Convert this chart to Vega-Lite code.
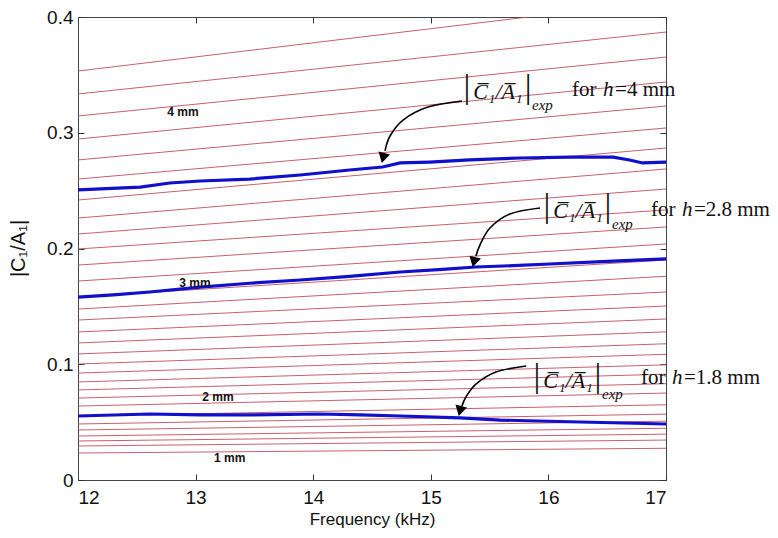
{
  "$schema": "https://vega.github.io/schema/vega-lite/v6.json",
  "width": 588,
  "height": 463,
  "autosize": {"type": "none"},
  "padding": {"left": 78, "top": 17, "right": 112, "bottom": 58},
  "background": "white",
  "config": {
    "view": {"stroke": "#444", "strokeWidth": 1},
    "axis": {
      "labelFont": "Liberation Sans", "labelFontSize": 19, "labelColor": "#111",
      "titleFont": "Liberation Sans", "titleFontSize": 17, "titleFontWeight": "normal", "titleColor": "#111",
      "tickColor": "#333", "tickWidth": 1, "domainColor": "#444", "grid": false, "tickSize": -6
    }
  },
  "datasets": {
    "red": [
      {"id": 1, "f": 12, "v": 0.3533}, {"id": 1, "f": 17, "v": 0.4143},
      {"id": 2, "f": 12, "v": 0.3335}, {"id": 2, "f": 17, "v": 0.3870},
      {"id": 3, "f": 12, "v": 0.3145}, {"id": 3, "f": 17, "v": 0.3654},
      {"id": 4, "f": 12, "v": 0.2946}, {"id": 4, "f": 17, "v": 0.3438},
      {"id": 5, "f": 12, "v": 0.2765}, {"id": 5, "f": 17, "v": 0.3231},
      {"id": 6, "f": 12, "v": 0.2600}, {"id": 6, "f": 17, "v": 0.3041},
      {"id": 7, "f": 12, "v": 0.2419}, {"id": 7, "f": 17, "v": 0.2868},
      {"id": 8, "f": 12, "v": 0.2263}, {"id": 8, "f": 17, "v": 0.2687},
      {"id": 9, "f": 12, "v": 0.2125}, {"id": 9, "f": 17, "v": 0.2514},
      {"id": 10, "f": 12, "v": 0.1996}, {"id": 10, "f": 17, "v": 0.2333},
      {"id": 11, "f": 12, "v": 0.1857}, {"id": 11, "f": 17, "v": 0.2186},
      {"id": 12, "f": 12, "v": 0.1719}, {"id": 12, "f": 17, "v": 0.2039},
      {"id": 13, "f": 12, "v": 0.1581}, {"id": 13, "f": 17, "v": 0.1901},
      {"id": 14, "f": 12, "v": 0.1477}, {"id": 14, "f": 17, "v": 0.1760},
      {"id": 15, "f": 12, "v": 0.1382}, {"id": 15, "f": 17, "v": 0.1624},
      {"id": 16, "f": 12, "v": 0.1279}, {"id": 16, "f": 17, "v": 0.1503},
      {"id": 17, "f": 12, "v": 0.1184}, {"id": 17, "f": 17, "v": 0.1391},
      {"id": 18, "f": 12, "v": 0.1089}, {"id": 18, "f": 17, "v": 0.1280},
      {"id": 19, "f": 12, "v": 0.1002}, {"id": 19, "f": 17, "v": 0.1177},
      {"id": 20, "f": 12, "v": 0.0924}, {"id": 20, "f": 17, "v": 0.1086},
      {"id": 21, "f": 12, "v": 0.0847}, {"id": 21, "f": 17, "v": 0.0995},
      {"id": 22, "f": 12, "v": 0.0778}, {"id": 22, "f": 17, "v": 0.0914},
      {"id": 23, "f": 12, "v": 0.0708}, {"id": 23, "f": 17, "v": 0.0832},
      {"id": 24, "f": 12, "v": 0.0639}, {"id": 24, "f": 17, "v": 0.0751},
      {"id": 25, "f": 12, "v": 0.0553}, {"id": 25, "f": 17, "v": 0.0650},
      {"id": 26, "f": 12, "v": 0.0484}, {"id": 26, "f": 17, "v": 0.0569},
      {"id": 27, "f": 12, "v": 0.0432}, {"id": 27, "f": 17, "v": 0.0508},
      {"id": 28, "f": 12, "v": 0.0380}, {"id": 28, "f": 17, "v": 0.0447},
      {"id": 29, "f": 12, "v": 0.0337}, {"id": 29, "f": 17, "v": 0.0396},
      {"id": 30, "f": 12, "v": 0.0294}, {"id": 30, "f": 17, "v": 0.0345},
      {"id": 31, "f": 12, "v": 0.0233}, {"id": 31, "f": 17, "v": 0.0274}
    ],
    "blue": [
      {"h": "4", "f": 12, "v": 0.2506}, {"h": "4", "f": 12.53, "v": 0.2531}, {"h": "4", "f": 12.78, "v": 0.2566},
      {"h": "4", "f": 13.04, "v": 0.2583}, {"h": "4", "f": 13.46, "v": 0.2600}, {"h": "4", "f": 13.89, "v": 0.2635},
      {"h": "4", "f": 14.31, "v": 0.2678}, {"h": "4", "f": 14.59, "v": 0.2704}, {"h": "4", "f": 14.74, "v": 0.2739},
      {"h": "4", "f": 14.99, "v": 0.2747}, {"h": "4", "f": 15.33, "v": 0.2765}, {"h": "4", "f": 15.76, "v": 0.2782},
      {"h": "4", "f": 16.18, "v": 0.2790}, {"h": "4", "f": 16.55, "v": 0.2790}, {"h": "4", "f": 16.69, "v": 0.2765},
      {"h": "4", "f": 16.80, "v": 0.2739}, {"h": "4", "f": 17, "v": 0.2747},
      {"h": "2.8", "f": 12, "v": 0.1580}, {"h": "2.8", "f": 12.3, "v": 0.1600}, {"h": "2.8", "f": 12.61, "v": 0.1624},
      {"h": "2.8", "f": 13.04, "v": 0.1667}, {"h": "2.8", "f": 13.46, "v": 0.1700}, {"h": "2.8", "f": 13.89, "v": 0.1728},
      {"h": "2.8", "f": 14.31, "v": 0.1760}, {"h": "2.8", "f": 14.74, "v": 0.1797}, {"h": "2.8", "f": 15.1, "v": 0.1820},
      {"h": "2.8", "f": 15.38, "v": 0.1840}, {"h": "2.8", "f": 15.7, "v": 0.1852}, {"h": "2.8", "f": 16.01, "v": 0.1866},
      {"h": "2.8", "f": 16.5, "v": 0.1888}, {"h": "2.8", "f": 17, "v": 0.1910},
      {"h": "1.8", "f": 12, "v": 0.0553}, {"h": "1.8", "f": 12.61, "v": 0.0570}, {"h": "1.8", "f": 13.04, "v": 0.0562},
      {"h": "1.8", "f": 13.46, "v": 0.0562}, {"h": "1.8", "f": 14.06, "v": 0.0570}, {"h": "1.8", "f": 14.4, "v": 0.0562},
      {"h": "1.8", "f": 14.74, "v": 0.0553}, {"h": "1.8", "f": 15.25, "v": 0.0536}, {"h": "1.8", "f": 15.59, "v": 0.0518},
      {"h": "1.8", "f": 16.27, "v": 0.0501}, {"h": "1.8", "f": 17, "v": 0.0484}
    ],
    "arrows": [
      {"a": 1, "o": 1, "f": 15.265, "v": 0.3274}, {"a": 1, "o": 2, "f": 14.976, "v": 0.3222}, {"a": 1, "o": 3, "f": 14.764, "v": 0.3110},
      {"a": 1, "o": 4, "f": 14.653, "v": 0.2972}, {"a": 1, "o": 5, "f": 14.611, "v": 0.2843},
      {"a": 2, "o": 1, "f": 15.929, "v": 0.2350}, {"a": 2, "o": 2, "f": 15.673, "v": 0.2298}, {"a": 2, "o": 3, "f": 15.503, "v": 0.2177},
      {"a": 2, "o": 4, "f": 15.418, "v": 0.2030}, {"a": 2, "o": 5, "f": 15.384, "v": 0.1935},
      {"a": 3, "o": 1, "f": 15.810, "v": 0.0985}, {"a": 3, "o": 2, "f": 15.554, "v": 0.0933}, {"a": 3, "o": 3, "f": 15.384, "v": 0.0829},
      {"a": 3, "o": 4, "f": 15.299, "v": 0.0717}, {"a": 3, "o": 5, "f": 15.265, "v": 0.0639}
    ],
    "heads": [
      {"a": 1, "f": 14.594, "v": 0.2782},
      {"a": 2, "f": 15.367, "v": 0.1883},
      {"a": 3, "f": 15.248, "v": 0.0596}
    ],
    "mm": [
      {"t": "4 mm", "f": 12.893, "v": 0.3180},
      {"t": "3 mm", "f": 12.995, "v": 0.1702},
      {"t": "2 mm", "f": 13.19, "v": 0.0717},
      {"t": "1 mm", "f": 13.29, "v": 0.0190}
    ],
    "bars": [
      {"f": 15.308, "v": 0.3387}, {"f": 15.827, "v": 0.3387},
      {"f": 15.988, "v": 0.2359}, {"f": 16.507, "v": 0.2359},
      {"f": 15.903, "v": 0.0890}, {"f": 16.422, "v": 0.0890}
    ],
    "inner": [
      {"t": "C̅₁/A̅₁", "f": 15.571, "v": 0.3352},
      {"t": "C̅₁/A̅₁", "f": 16.252, "v": 0.2324},
      {"t": "C̅₁/A̅₁", "f": 16.167, "v": 0.0855}
    ],
    "exp": [
      {"t": "exp", "f": 15.861, "v": 0.3240},
      {"t": "exp", "f": 16.541, "v": 0.2212},
      {"t": "exp", "f": 16.456, "v": 0.0743}
    ],
    "fortext": [
      {"rest": "=4 mm", "f": 16.201, "v": 0.3369},
      {"rest": "=2.8 mm", "f": 16.872, "v": 0.2333},
      {"rest": "=1.8 mm", "f": 16.787, "v": 0.0881}
    ]
  },
  "layer": [
    {
      "data": {"name": "red"},
      "mark": {"type": "line", "color": "#c24d5e", "strokeWidth": 0.9, "clip": true},
      "encoding": {
        "x": {"field": "f", "type": "quantitative", "scale": {"domain": [12, 17], "nice": false, "zero": false},
          "axis": {"orient": "bottom", "values": [12, 13, 14, 15, 16, 17], "title": "Frequency (kHz)", "labelPadding": 14, "titleY": 31}},
        "y": {"field": "v", "type": "quantitative", "scale": {"domain": [0, 0.4], "nice": false},
          "axis": {"orient": "left", "values": [0, 0.1, 0.2, 0.3, 0.4], "labelExpr": "datum.value == 0 ? '0' : format(datum.value, '.1f')",
            "title": "|C₁/A₁|", "titleFontSize": 20, "labelPadding": 11, "titleX": -60, "titleY": 231, "titleAngle": -90, "titleBaseline": "middle", "titleAlign": "center"}},
        "detail": {"field": "id"}
      }
    },
    {
      "data": {"name": "blue"},
      "mark": {"type": "line", "color": "#1010cc", "strokeWidth": 3.2, "clip": true},
      "encoding": {
        "x": {"field": "f", "type": "quantitative", "axis": {"orient": "top", "values": [12, 13, 14, 15, 16, 17], "labels": false, "title": null, "domain": false}},
        "y": {"field": "v", "type": "quantitative", "axis": {"orient": "right", "values": [0, 0.1, 0.2, 0.3, 0.4], "labels": false, "title": null, "domain": false}},
        "detail": {"field": "h"}
      }
    },
    {
      "data": {"name": "arrows"},
      "mark": {"type": "line", "color": "black", "strokeWidth": 1.6, "interpolate": "cardinal"},
      "encoding": {
        "x": {"field": "f", "type": "quantitative", "axis": null},
        "y": {"field": "v", "type": "quantitative", "axis": null},
        "detail": {"field": "a"},
        "order": {"field": "o"}
      }
    },
    {
      "data": {"name": "heads"},
      "mark": {"type": "point", "shape": "triangle-down", "filled": true, "color": "black", "size": 140, "opacity": 1, "angle": 14},
      "encoding": {
        "x": {"field": "f", "type": "quantitative", "axis": null},
        "y": {"field": "v", "type": "quantitative", "axis": null}
      }
    },
    {
      "data": {"name": "mm"},
      "mark": {"type": "text", "font": "Liberation Sans", "fontSize": 12, "fontWeight": "bold", "color": "#111", "align": "center", "baseline": "middle"},
      "encoding": {
        "x": {"field": "f", "type": "quantitative", "axis": null},
        "y": {"field": "v", "type": "quantitative", "axis": null},
        "text": {"field": "t"}
      }
    },
    {
      "data": {"name": "bars"},
      "mark": {"type": "text", "text": "|", "font": "Liberation Serif", "fontSize": 34, "color": "#111", "align": "center", "baseline": "middle"},
      "encoding": {
        "x": {"field": "f", "type": "quantitative", "axis": null},
        "y": {"field": "v", "type": "quantitative", "axis": null}
      }
    },
    {
      "data": {"name": "inner"},
      "mark": {"type": "text", "font": "Liberation Serif", "fontSize": 22, "fontStyle": "italic", "color": "#111", "align": "center", "baseline": "middle"},
      "encoding": {
        "x": {"field": "f", "type": "quantitative", "axis": null},
        "y": {"field": "v", "type": "quantitative", "axis": null},
        "text": {"field": "t"}
      }
    },
    {
      "data": {"name": "exp"},
      "mark": {"type": "text", "font": "Liberation Serif", "fontSize": 15, "fontStyle": "italic", "color": "#111", "align": "left", "baseline": "middle"},
      "encoding": {
        "x": {"field": "f", "type": "quantitative", "axis": null},
        "y": {"field": "v", "type": "quantitative", "axis": null},
        "text": {"field": "t"}
      }
    },
    {
      "data": {"name": "fortext"},
      "mark": {"type": "text", "text": "for", "font": "Liberation Serif", "fontSize": 21, "color": "#111", "align": "left", "baseline": "middle"},
      "encoding": {
        "x": {"field": "f", "type": "quantitative", "axis": null},
        "y": {"field": "v", "type": "quantitative", "axis": null}
      }
    },
    {
      "data": {"name": "fortext"},
      "mark": {"type": "text", "text": "h", "font": "Liberation Serif", "fontSize": 21, "fontStyle": "italic", "color": "#111", "align": "left", "baseline": "middle", "dx": 31},
      "encoding": {
        "x": {"field": "f", "type": "quantitative", "axis": null},
        "y": {"field": "v", "type": "quantitative", "axis": null}
      }
    },
    {
      "data": {"name": "fortext"},
      "mark": {"type": "text", "font": "Liberation Serif", "fontSize": 21, "color": "#111", "align": "left", "baseline": "middle", "dx": 43},
      "encoding": {
        "x": {"field": "f", "type": "quantitative", "axis": null},
        "y": {"field": "v", "type": "quantitative", "axis": null},
        "text": {"field": "rest"}
      }
    }
  ],
  "resolve": {"axis": {"x": "independent", "y": "independent"}}
}
